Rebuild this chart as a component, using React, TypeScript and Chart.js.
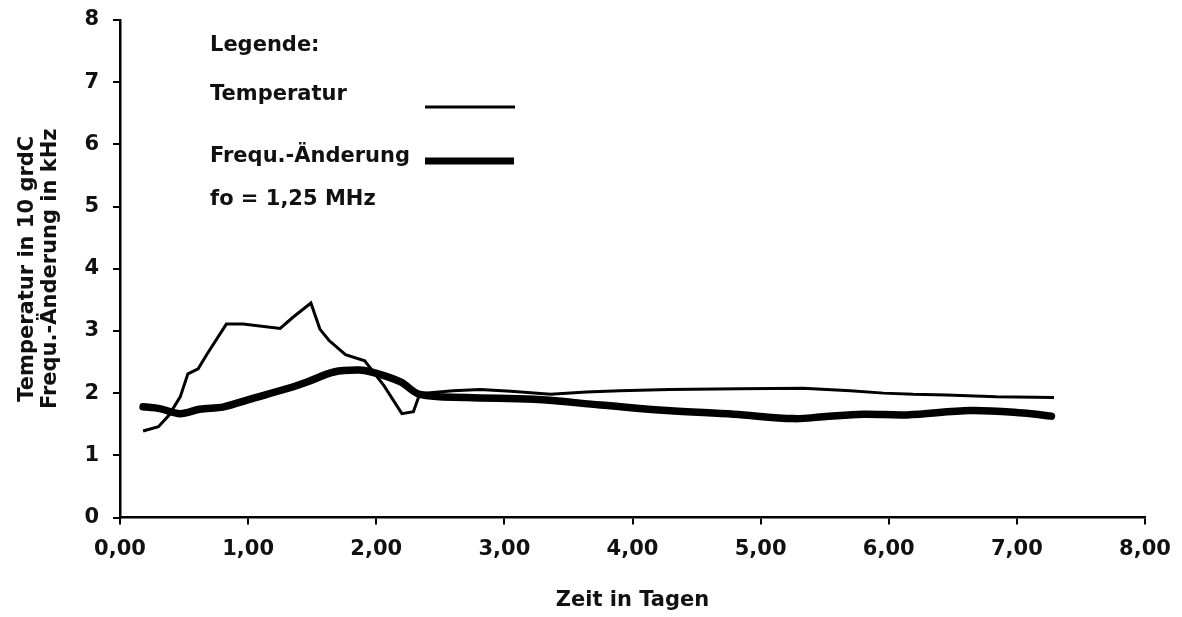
import React, { useEffect, useRef } from "react";
import { Chart, registerables } from "chart.js";

Chart.register(...registerables);

const tempX = [0.18, 0.30, 0.38, 0.47, 0.53, 0.61, 0.68, 0.83, 0.96, 1.25, 1.35, 1.49, 1.56, 1.63, 1.76, 1.91, 2.06, 2.20, 2.29, 2.34, 2.60, 2.81, 3.05, 3.36, 3.64, 3.90, 4.29, 4.84, 5.33, 5.70, 5.96, 6.19, 6.45, 6.84, 7.29];
const tempY = [1.39, 1.46, 1.64, 1.94, 2.31, 2.39, 2.63, 3.11, 3.11, 3.04, 3.22, 3.45, 3.03, 2.85, 2.62, 2.52, 2.12, 1.67, 1.70, 1.99, 2.04, 2.06, 2.03, 1.98, 2.02, 2.04, 2.06, 2.07, 2.08, 2.04, 2.00, 1.98, 1.97, 1.94, 1.93];

const freqX = [0.18, 0.31, 0.47, 0.62, 0.81, 1.01, 1.30, 1.46, 1.67, 1.87, 1.98, 2.19, 2.34, 2.71, 3.23, 3.75, 4.27, 4.79, 5.26, 5.49, 5.80, 6.14, 6.64, 7.05, 7.27];
const freqY = [1.78, 1.75, 1.67, 1.74, 1.78, 1.90, 2.07, 2.18, 2.34, 2.37, 2.33, 2.18, 1.98, 1.93, 1.90, 1.81, 1.72, 1.66, 1.59, 1.62, 1.66, 1.65, 1.72, 1.68, 1.63];

const xTicks = [0, 1, 2, 3, 4, 5, 6, 7, 8];
const yTicks = [0, 1, 2, 3, 4, 5, 6, 7, 8];

const legendTitle = "Legende:";
const seriesNames = ["Temperatur", "Frequ.-Änderung"];
const legendNote = "fo = 1,25 MHz";
const xTitle = "Zeit in Tagen";
const yTitle = ["Temperatur in 10 grdC", "Frequ.-Änderung in kHz"];

const FONT = "'DejaVu Sans', Verdana, sans-serif";
const INK = "#111";

export default function App() {
  const ref = useRef<HTMLCanvasElement | null>(null);

  useEffect(() => {
    if (!ref.current) return;
    const legendPlugin = {
      id: "customLegend",
      afterDraw(chart: any) {
        const ctx = chart.ctx;
        ctx.save();
        ctx.fillStyle = INK;
        ctx.strokeStyle = "#000";
        ctx.font = `bold 21px ${FONT}`;
        ctx.textBaseline = "middle";
        ctx.textAlign = "left";
        ctx.fillText(legendTitle, 210, 46);
        ctx.fillText(seriesNames[0], 210, 95);
        ctx.fillText(seriesNames[1], 210, 157);
        ctx.fillText(legendNote, 210, 200);
        ctx.lineCap = "butt";
        ctx.lineWidth = 3;
        ctx.beginPath();
        ctx.moveTo(425, 107);
        ctx.lineTo(515, 107);
        ctx.stroke();
        ctx.lineWidth = 7;
        ctx.beginPath();
        ctx.moveTo(425, 161);
        ctx.lineTo(514, 161);
        ctx.stroke();
        ctx.restore();
      },
    };

    const chart = new Chart(ref.current, {
      type: "line",
      data: {
        datasets: [
          {
            label: seriesNames[0],
            data: tempX.map((x, i) => ({ x, y: tempY[i] })),
            borderColor: "#000",
            borderWidth: 3,
            pointRadius: 0,
            tension: 0,
            fill: false,
          },
          {
            label: seriesNames[1],
            data: freqX.map((x, i) => ({ x, y: freqY[i] })),
            borderColor: "#000",
            borderWidth: 7.5,
            pointRadius: 0,
            tension: 0.35,
            borderCapStyle: "round",
            fill: false,
          },
        ],
      },
      options: {
        animation: false,
        responsive: false,
        maintainAspectRatio: false,
        layout: { padding: { top: 20, right: 37, left: 0, bottom: 0 } },
        plugins: { legend: { display: false }, tooltip: { enabled: false } },
        scales: {
          x: {
            type: "linear",
            min: 0,
            max: 8,
            afterBuildTicks: (s: any) => {
              s.ticks = xTicks.map((v) => ({ value: v }));
            },
            afterFit: (s: any) => {
              s.height = 617 - 517.5;
              s.paddingLeft = 0;
              s.paddingRight = 0;
            },
            ticks: {
              color: INK,
              font: { family: FONT, size: 21, weight: "bold" },
              padding: 12,
              maxRotation: 0,
              callback: (v: any) => Number(v).toFixed(2).replace(".", ","),
            },
            grid: { drawOnChartArea: false, drawTicks: true, tickLength: 7, color: "#000", lineWidth: 2 },
            border: { display: true, color: "#000", width: 2.5 },
            title: { display: true, text: xTitle, color: INK, font: { family: FONT, size: 21, weight: "bold", lineHeight: 1.05 }, padding: { top: 4, bottom: 5 } },
          },
          y: {
            type: "linear",
            min: 0,
            max: 8,
            afterBuildTicks: (s: any) => {
              s.ticks = yTicks.map((v) => ({ value: v }));
            },
            afterFit: (s: any) => {
              s.width = 120;
              s.paddingTop = 0;
              s.paddingBottom = 0;
            },
            ticks: {
              color: INK,
              font: { family: FONT, size: 21, weight: "bold" },
              padding: 14,
              callback: (v: any) => String(v),
            },
            grid: { drawOnChartArea: false, drawTicks: true, tickLength: 7, color: "#000", lineWidth: 2 },
            border: { display: true, color: "#000", width: 2.5 },
            title: { display: true, text: yTitle, color: INK, font: { family: FONT, size: 21, weight: "bold", lineHeight: 1.05 }, padding: { top: 17, bottom: 0 } },
          },
        },
      },
      plugins: [legendPlugin],
    } as any);
    return () => chart.destroy();
  }, []);

  return (
    <div style={{ position: "absolute", left: 0, top: 0, width: 1182, height: 617, background: "#fff" }}>
      <canvas ref={ref} width={1182} height={617} style={{ display: "block", width: 1182, height: 617 }} />
    </div>
  );
}
